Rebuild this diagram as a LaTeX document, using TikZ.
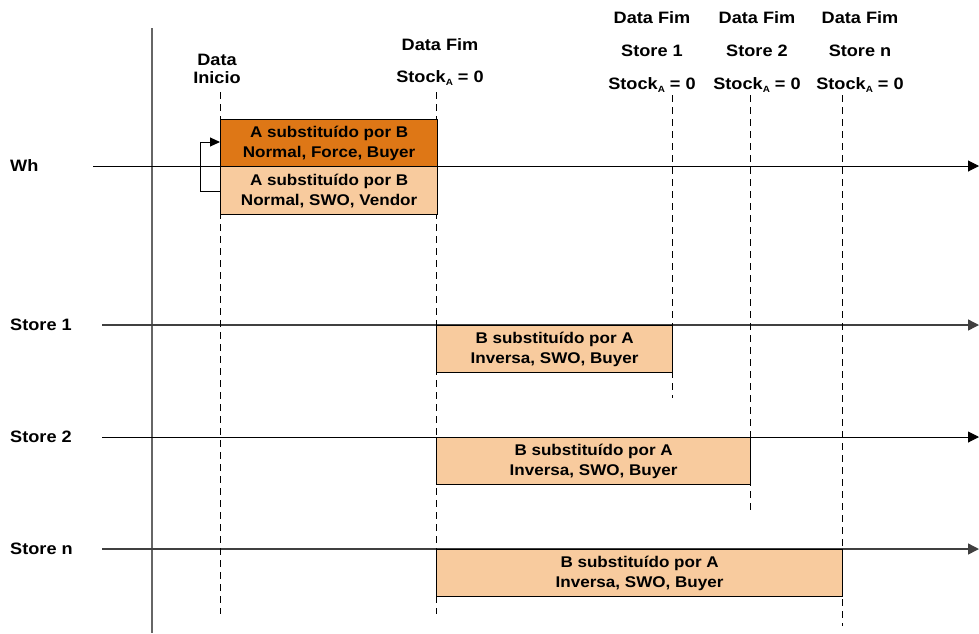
\documentclass[tikz,border=0pt]{standalone}
\usepackage{fontspec}
\setmainfont{Liberation Sans}[FakeStretch=1.1]
\usetikzlibrary{arrows.meta}
\definecolor{darkorange}{HTML}{DE7716}
\definecolor{lightorange}{HTML}{F8CB9E}
\newcommand{\stocka}{Stock\raisebox{-0.35ex}{\fontsize{9}{9}\selectfont A} = 0}
\begin{document}
\begin{tikzpicture}[x=1pt,y=-1pt,
  lbl/.style={font=\fontsize{16.5}{19}\selectfont\bfseries, inner sep=0pt, align=center},
  rowlbl/.style={lbl, anchor=west},
  box/.style={draw=black, line width=1.2pt, anchor=north west, inner sep=0pt,
    font=\fontsize{15.5}{20}\selectfont\bfseries, align=center},
  axisline/.style={line width=1pt, -{Triangle[length=11pt,width=11pt]}},
  storeline/.style={axisline, draw=black!75, line width=1.4pt},
  guide/.style={dashed, dash pattern=on 7pt off 5pt, line width=0.9pt},
]
\useasboundingbox (0,0) rectangle (979,633);

% vertical axis
\coordinate (vtop) at (152,28);
\coordinate (vbot) at (152,633);
\draw[black!60, line width=1.6pt] (vtop) -- (vbot);

% time axes
\coordinate (whA) at (93,166);   \coordinate (whB) at (979,166);
\coordinate (s1A) at (102,325);  \coordinate (s1B) at (979,325);
\coordinate (s2A) at (102,437);  \coordinate (s2B) at (979,437);
\coordinate (snA) at (102,549);  \coordinate (snB) at (979,549);
\draw[axisline] (whA) -- (whB);
\draw[storeline] (s1A) -- (s1B);
\draw[axisline] (s2A) -- (s2B);
\draw[storeline] (snA) -- (snB);

% row labels
\node[rowlbl] (wh) at (10,166) {Wh};
\node[rowlbl] (st1) at (10,325) {Store 1};
\node[rowlbl] (st2) at (10,437) {Store 2};
\node[rowlbl] (stn) at (10,549) {Store n};

% date guides
\coordinate (g1t) at (220,92);  \coordinate (g1b) at (220,614);
\coordinate (g2t) at (436,92);  \coordinate (g2b) at (436,614);
\coordinate (g3t) at (672,95);  \coordinate (g3b) at (672,398);
\coordinate (g4t) at (750,95);  \coordinate (g4b) at (750,512);
\coordinate (g5t) at (842,95);  \coordinate (g5b) at (842,626);
\foreach \g in {1,...,5} \draw[guide] (g\g t) -- (g\g b);

% date labels
\node[lbl] (di1) at (217,60) {Data};
\node[lbl] (di2) at (217,78) {Inicio};
\node[lbl] (df1) at (440,45) {Data Fim};
\node[lbl] (df2) at (440,78) {\stocka};
\node[lbl] (a1) at (652,18) {Data Fim};
\node[lbl] (a2) at (652,51) {Store 1};
\node[lbl] (a3) at (652,85) {\stocka};
\node[lbl] (b1) at (757,18) {Data Fim};
\node[lbl] (b2) at (757,51) {Store 2};
\node[lbl] (b3) at (757,85) {\stocka};
\node[lbl] (c1) at (860,18) {Data Fim};
\node[lbl] (c2) at (860,51) {Store n};
\node[lbl] (c3) at (860,85) {\stocka};

% substitution boxes
\node[box, fill=darkorange, minimum width=217pt, minimum height=47pt] (whf) at (220,119)
  {A substituído por B\\Normal, Force, Buyer};
\node[box, fill=lightorange, minimum width=217pt, minimum height=48pt] (whs) at (220,166)
  {A substituído por B\\Normal, SWO, Vendor};
\node[box, fill=lightorange, minimum width=236pt, minimum height=47pt] (sb1) at (436,325)
  {B substituído por A\\Inversa, SWO, Buyer};
\node[box, fill=lightorange, minimum width=314pt, minimum height=47pt] (sb2) at (436,437)
  {B substituído por A\\Inversa, SWO, Buyer};
\node[box, fill=lightorange, minimum width=406pt, minimum height=47pt] (sbn) at (436,549)
  {B substituído por A\\Inversa, SWO, Buyer};

% loop from the SWO box back to the Force box
\draw[line width=1pt, -{Triangle[length=10pt,width=9pt]}]
  (whs.west |- 0,191) -- ++(-20,0) |- (whf.west |- 0,142);
\end{tikzpicture}
\end{document}
